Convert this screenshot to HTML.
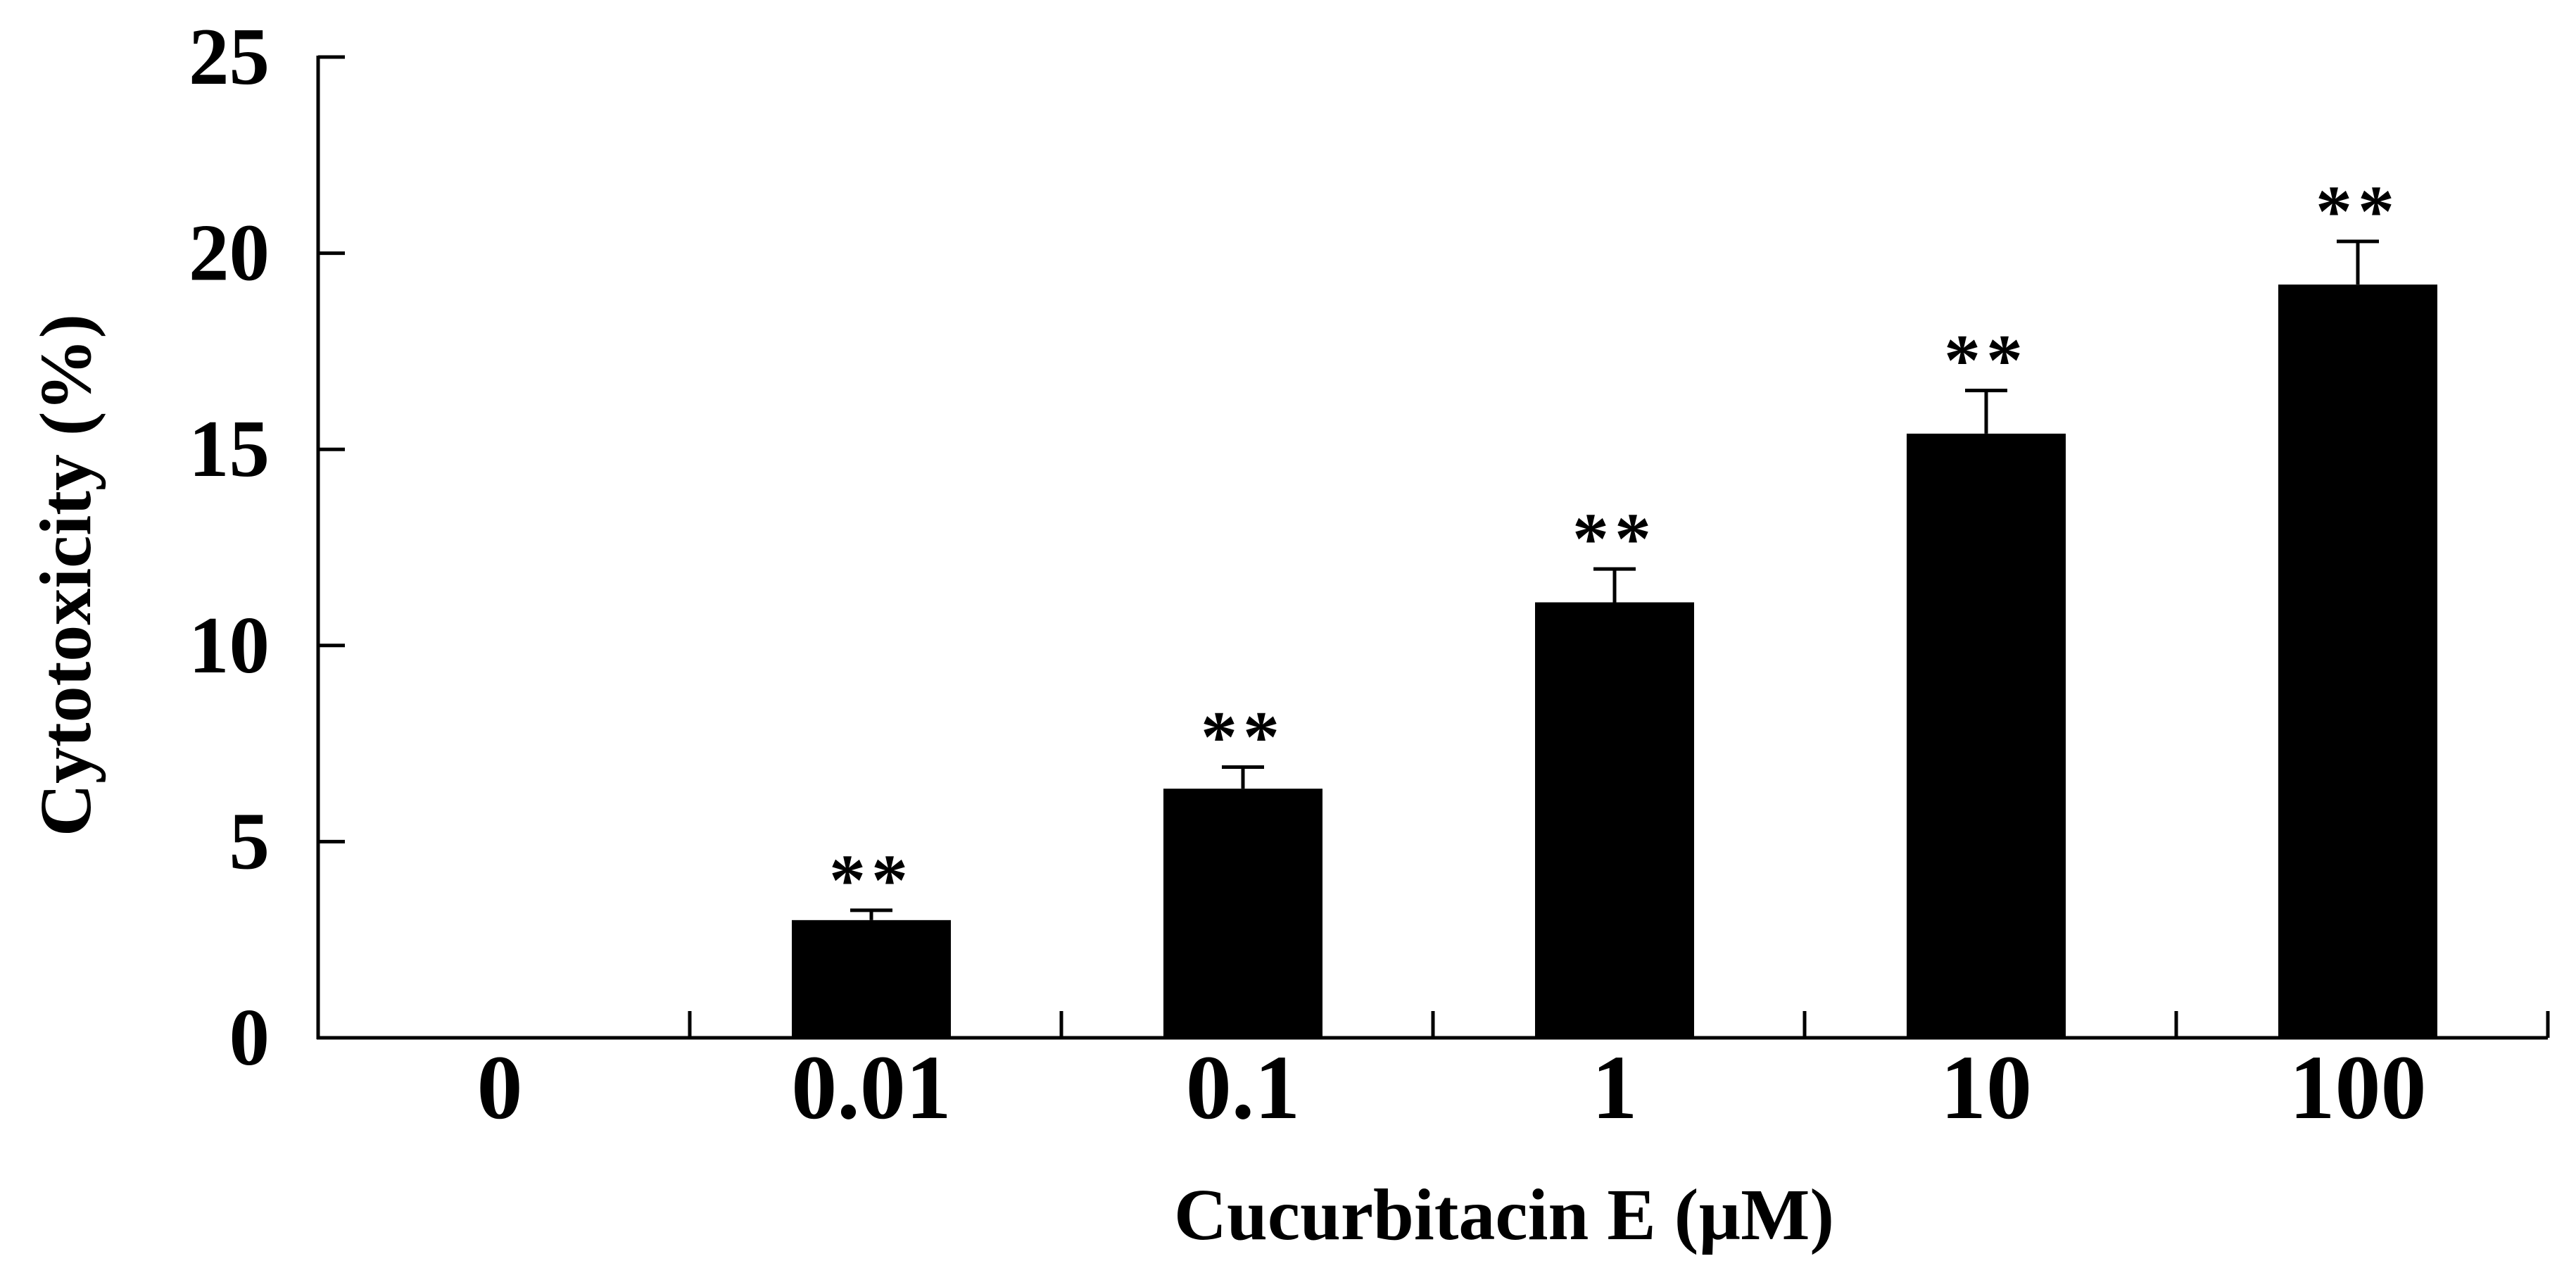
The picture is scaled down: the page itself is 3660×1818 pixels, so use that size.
<!DOCTYPE html>
<html><head><meta charset="utf-8"><style>
html,body{margin:0;padding:0;background:#fff;}
svg{display:block;font-family:"Liberation Serif",serif;font-weight:bold;}
</style></head><body>
<svg id="chart" width="3660" height="1818" viewBox="0 0 3660 1818" xmlns="http://www.w3.org/2000/svg">
<g id="axes"></g>
<g id="bars"></g>
<text transform="translate(128,817) rotate(-90)" text-anchor="middle" font-size="104">Cytotoxicity (%)</text>
<text x="2137" y="1760" text-anchor="middle" font-size="104">Cucurbitacin E (µM)</text>
</svg>
<script>
const categories = ["0", "0.01", "0.1", "1", "10", "100"];
const values = [0, 3.0, 6.35, 11.1, 15.4, 19.2];
const errors = [0, 0.25, 0.55, 0.85, 1.1, 1.1];
const significance = ["", "**", "**", "**", "**", "**"];
const yTicks = [0, 5, 10, 15, 20, 25];

const NS = "http://www.w3.org/2000/svg";
const x0 = 452, x1 = 3620, y0 = 1474, yTop = 81, yMax = 25;
const bandW = (x1 - x0) / categories.length;
const barW = 226;
function yScale(v){ return y0 - (v / yMax) * (y0 - yTop); }
function xCenter(i){ return x0 + bandW * (i + 0.5); }
function mk(tag, attrs, parent){
  const e = document.createElementNS(NS, tag);
  for (const k in attrs) e.setAttribute(k, attrs[k]);
  parent.appendChild(e);
  return e;
}
const axes = document.getElementById('axes');
const bars = document.getElementById('bars');

let yl = mk('line', {x1:x0, y1:yScale(yMax)-2, x2:x0, y2:y0+2, stroke:'#000','stroke-width':5}, axes);


let xl = mk('line', {x1:x0-2, y1:y0, x2:x1, y2:y0, stroke:'#000','stroke-width':5}, axes);



yTicks.forEach(t => {
  const y = yScale(t);
  const tk = mk('line', {x1:x0, y1:y, x2:x0+38, y2:y, stroke:'#000','stroke-width':5}, axes);
  
  
  const lb = mk('text', {x:383, y:y+38, 'text-anchor':'end', 'font-size':115}, axes);
  lb.textContent = t;
  
  
});

for (let i = 1; i <= categories.length; i++){
  const x = x0 + bandW * i;
  const tk = mk('line', {x1:x, y1:y0, x2:x, y2:y0-38, stroke:'#000','stroke-width':5}, axes);
  
  
}

categories.forEach((c, i) => {
  const cx = xCenter(i) - 6;
  const lb = mk('text', {x:cx, y:1588, 'text-anchor':'middle', 'font-size':130}, axes);
  lb.textContent = c;
  
  
  if (values[i] > 0){
    const top = yScale(values[i]);
    const r = mk('rect', {x:cx-barW/2, y:top, width:barW, height:y0-top, fill:'#000'}, bars);
    
    
    const et = yScale(values[i] + errors[i]);
    const ev = mk('line', {x1:cx, y1:top, x2:cx, y2:et, stroke:'#000','stroke-width':5}, bars);
    
    
    const ec = mk('line', {x1:cx-30, y1:et, x2:cx+30, y2:et, stroke:'#000','stroke-width':5}, bars);
    
    
    const s = mk('text', {x:cx, y:et-8, 'text-anchor':'middle', 'font-size':104, 'letter-spacing':8}, bars);
    s.textContent = significance[i];
    
    
  }
});
</script>
</body></html>
